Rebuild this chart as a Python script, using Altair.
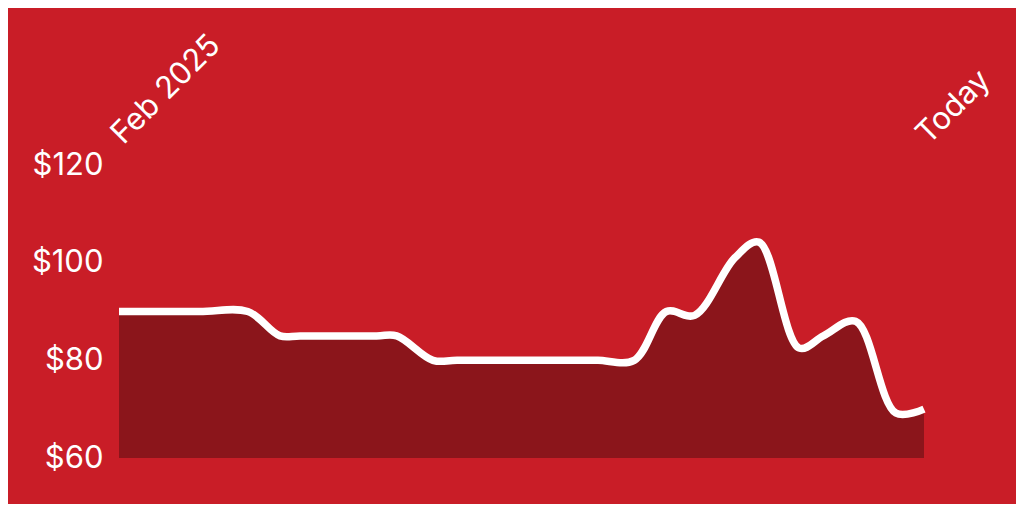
import altair as alt
import pandas as pd

# days since start of Feb 2025 (0 = Feb 2025, 200 = Today)
days = [0, 20, 32, 40, 45, 64, 69, 78, 84, 113, 119, 128, 136, 143, 153, 159, 169, 175, 183, 193, 200]
prices = [90, 90, 90, 85, 85, 85, 85, 80, 80, 80, 80, 80, 90, 89.2, 101, 104.2, 82.5, 85, 88, 69.2, 70]
y_ticks = [60, 80, 100, 120]
x_ticks = [0, 200]
x_labels = ["Feb 2025", "Today"]

df = pd.DataFrame({"day": days, "price": prices})

BG = "#C91D27"
DARK = "#8B151B"
FONT = "Inter"
FS = 31

x_enc = alt.X(
    "day:Q",
    scale=alt.Scale(domain=[0, 200], nice=False, zero=False),
    axis=alt.Axis(
        orient="top",
        values=x_ticks,
        labelExpr=f"datum.value == 0 ? '{x_labels[0]}' : '{x_labels[1]}'",
        labelAngle=315,
        labelAlign="left",
        labelBaseline="alphabetic",
        labelPadding=20,
        labelOffset=4,
        labelFontSize=FS,
        labelFont=FONT,
        labelColor="white",
        labelFlush=False,
        labelOverlap=False,
        labelBound=False,
        ticks=False,
        domain=False,
        grid=False,
        title=None,
    ),
)
y_enc = alt.Y(
    "price:Q",
    scale=alt.Scale(domain=[60, 120], nice=False, zero=False),
    axis=alt.Axis(
        values=y_ticks,
        labelExpr="'$' + datum.value",
        labelFontSize=FS,
        labelFont=FONT,
        labelColor="white",
        labelPadding=16,
        ticks=False,
        domain=False,
        grid=False,
        title=None,
    ),
)

area = alt.Chart(df).mark_area(interpolate="catmull-rom", color=DARK).encode(
    x=x_enc, y=y_enc, y2=alt.datum(60)
)
line = alt.Chart(df).mark_line(
    interpolate="catmull-rom", color="white", strokeWidth=7.5
).encode(x="day:Q", y="price:Q")

chart = (
    alt.layer(area, line)
    .properties(
        width=805,
        height=293,
        background=BG,
        autosize=alt.AutoSizeParams(type="none"),
        padding={"left": 111, "top": 157, "right": 92, "bottom": 46},
    )
    .configure_view(stroke=None)
)

chart.save("out.html", embed_options={"renderer": "svg", "actions": False})
